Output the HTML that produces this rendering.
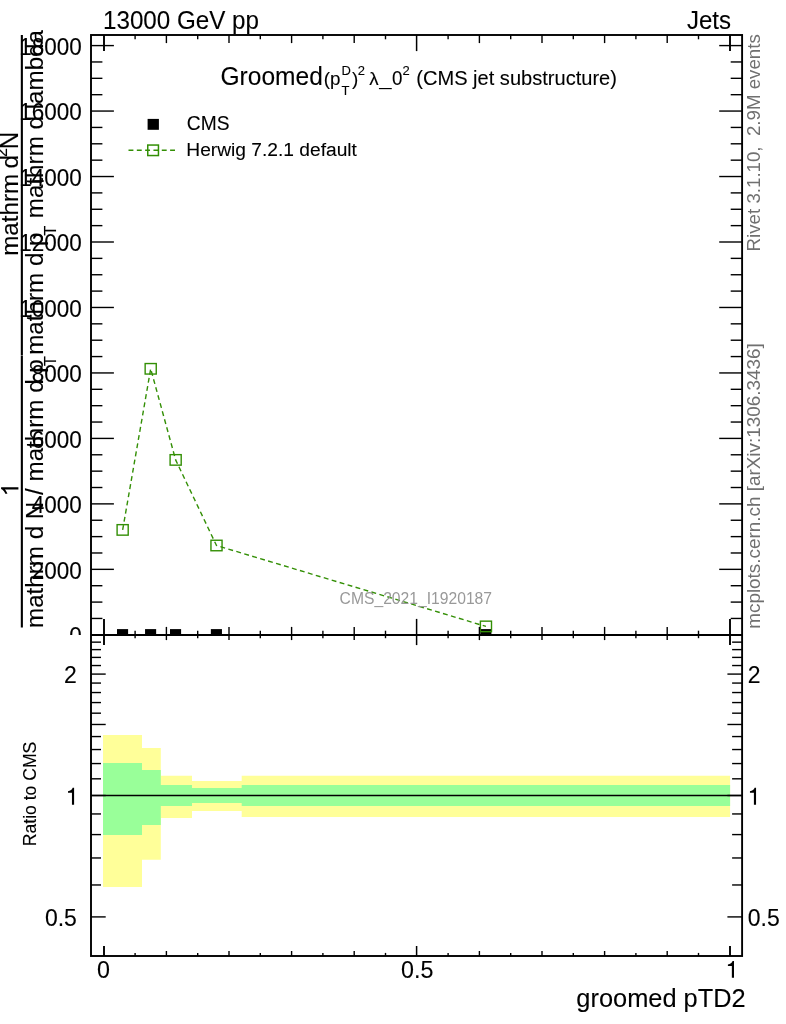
<!DOCTYPE html>
<html><head><meta charset="utf-8"><title>plot</title>
<style>html,body{margin:0;padding:0;background:#fff}body{width:786px;height:1024px;overflow:hidden}svg{will-change:transform}</style></head>
<body>
<svg width="786" height="1024" viewBox="0 0 786 1024" style="display:block">
<rect x="0" y="0" width="786" height="1024" fill="#fff"/>
<text transform="translate(81.80,644.12) scale(1,1.04)" font-size="22.5" text-anchor="end" fill="#000" stroke="#000" stroke-width="0.1" font-family="Liberation Sans, sans-serif">0</text>
<text transform="translate(81.80,578.65) scale(1,1.04)" font-size="22.5" text-anchor="end" fill="#000" stroke="#000" stroke-width="0.1" font-family="Liberation Sans, sans-serif">2000</text>
<text transform="translate(81.80,513.18) scale(1,1.04)" font-size="22.5" text-anchor="end" fill="#000" stroke="#000" stroke-width="0.1" font-family="Liberation Sans, sans-serif">4000</text>
<text transform="translate(81.80,447.71) scale(1,1.04)" font-size="22.5" text-anchor="end" fill="#000" stroke="#000" stroke-width="0.1" font-family="Liberation Sans, sans-serif">6000</text>
<text transform="translate(81.80,382.24) scale(1,1.04)" font-size="22.5" text-anchor="end" fill="#000" stroke="#000" stroke-width="0.1" font-family="Liberation Sans, sans-serif">8000</text>
<text transform="translate(81.80,316.77) scale(1,1.04)" font-size="22.5" text-anchor="end" fill="#000" stroke="#000" stroke-width="0.1" font-family="Liberation Sans, sans-serif">10000</text>
<text transform="translate(81.80,251.30) scale(1,1.04)" font-size="22.5" text-anchor="end" fill="#000" stroke="#000" stroke-width="0.1" font-family="Liberation Sans, sans-serif">12000</text>
<text transform="translate(81.80,185.83) scale(1,1.04)" font-size="22.5" text-anchor="end" fill="#000" stroke="#000" stroke-width="0.1" font-family="Liberation Sans, sans-serif">14000</text>
<text transform="translate(81.80,120.36) scale(1,1.04)" font-size="22.5" text-anchor="end" fill="#000" stroke="#000" stroke-width="0.1" font-family="Liberation Sans, sans-serif">16000</text>
<text transform="translate(81.80,54.89) scale(1,1.04)" font-size="22.5" text-anchor="end" fill="#000" stroke="#000" stroke-width="0.1" font-family="Liberation Sans, sans-serif">18000</text>
<rect x="20.8" y="35" width="2.1" height="320" fill="#000"/>
<rect x="20.8" y="355.4" width="2.1" height="272.1" fill="#000"/>
<text transform="translate(43.10,628.00) rotate(-90)" font-size="24.2" text-anchor="start" fill="#000" stroke="#000" stroke-width="0.1" font-family="Liberation Sans, sans-serif">mathrm d N / mathrm d p</text>
<text transform="translate(55.70,365.90) rotate(-90) scale(1,1.04)" font-size="16" text-anchor="start" fill="#000" stroke="#000" stroke-width="0.1" font-family="Liberation Sans, sans-serif">T</text>
<text transform="translate(43.10,354.80) rotate(-90)" font-size="24.2" text-anchor="start" fill="#000" stroke="#000" stroke-width="0.1" font-family="Liberation Sans, sans-serif">mathrm d p</text>
<text transform="translate(55.70,235.40) rotate(-90) scale(1,1.04)" font-size="16" text-anchor="start" fill="#000" stroke="#000" stroke-width="0.1" font-family="Liberation Sans, sans-serif">T</text>
<text transform="translate(43.10,218.20) rotate(-90)" font-size="24.2" text-anchor="start" fill="#000" stroke="#000" stroke-width="0.1" font-family="Liberation Sans, sans-serif">mathrm d lambda</text>
<path transform="translate(18.4,496.0) rotate(-90)" d="M8.7,0 L8.7,-17.3 L7.0,-17.3 C6.2,-15.3 4.2,-13.8 2.2,-13.1 L2.2,-11.0 C3.9,-11.5 5.5,-12.5 6.5,-13.5 L6.5,0 Z" fill="#000"/>
<text transform="translate(18.40,255.80) rotate(-90)" font-size="24.2" text-anchor="start" fill="#000" stroke="#000" stroke-width="0.1" font-family="Liberation Sans, sans-serif">mathrm</text>
<text transform="translate(18.40,168.50) rotate(-90)" font-size="24.2" text-anchor="start" fill="#000" stroke="#000" stroke-width="0.1" font-family="Liberation Sans, sans-serif">d</text>
<text transform="translate(7.30,157.00) rotate(-90) scale(1,1.04)" font-size="16" text-anchor="start" fill="#000" stroke="#000" stroke-width="0.1" font-family="Liberation Sans, sans-serif">2</text>
<text transform="translate(18.40,149.30) rotate(-90) scale(1,1.04)" font-size="24.2" text-anchor="start" fill="#000" stroke="#000" stroke-width="0.1" font-family="Liberation Sans, sans-serif">N</text>
<clipPath id="cm"><rect x="91.0" y="35.0" width="651.1" height="600.0"/></clipPath>
<g clip-path="url(#cm)">
<rect x="117.00" y="629.1" width="11.1" height="11" fill="#000"/>
<rect x="145.05" y="629.1" width="11.1" height="11" fill="#000"/>
<rect x="170.00" y="629.1" width="11.1" height="11" fill="#000"/>
<rect x="210.85" y="629.1" width="11.1" height="11" fill="#000"/>
<rect x="480.30" y="629.1" width="11.1" height="11" fill="#000"/>
</g>
<path d="M122.65,529.90 L150.70,368.80 L175.65,459.90 L216.50,545.50 L485.95,626.40" fill="none" stroke="#338f05" stroke-width="1.4" stroke-dasharray="4.9,3.4"/>
<rect x="117.10" y="524.65" width="11.1" height="10.5" fill="none" stroke="#338f05" stroke-width="1.4"/>
<rect x="145.15" y="363.55" width="11.1" height="10.5" fill="none" stroke="#338f05" stroke-width="1.4"/>
<rect x="170.10" y="454.65" width="11.1" height="10.5" fill="none" stroke="#338f05" stroke-width="1.4"/>
<rect x="210.95" y="540.25" width="11.1" height="10.5" fill="none" stroke="#338f05" stroke-width="1.4"/>
<rect x="480.40" y="621.15" width="11.1" height="10.5" fill="none" stroke="#338f05" stroke-width="1.4"/>
<text transform="translate(415.80,603.90)" font-size="16.4" text-anchor="middle" fill="#999" font-family="Liberation Sans, sans-serif" textLength="152.40" lengthAdjust="spacingAndGlyphs">CMS_2021_I1920187</text>
<rect x="0" y="635.0" width="786" height="389.0" fill="#fff"/>
<path d="M103.00,735.00 L142.00,735.00 L142.00,748.00 L160.80,748.00 L160.80,775.70 L192.00,775.70 L192.00,781.10 L241.70,781.10 L241.70,775.70 L730.10,775.70 L730.10,817.00 L241.70,817.00 L241.70,810.90 L192.00,810.90 L192.00,818.00 L160.80,818.00 L160.80,859.80 L142.00,859.80 L142.00,887.00 L103.00,887.00 Z" fill="#ffff99"/>
<path d="M103.00,763.00 L142.00,763.00 L142.00,770.00 L160.80,770.00 L160.80,785.00 L192.00,785.00 L192.00,788.00 L241.70,788.00 L241.70,785.00 L730.10,785.00 L730.10,806.00 L241.70,806.00 L241.70,803.00 L192.00,803.00 L192.00,806.00 L160.80,806.00 L160.80,825.00 L142.00,825.00 L142.00,835.00 L103.00,835.00 Z" fill="#99ff99"/>
<line x1="91.0" x2="742.1" y1="795.50" y2="795.50" stroke="#000" stroke-width="1.3"/>
<line x1="91.00" y1="634.82" x2="113.90" y2="634.82" stroke="#000" stroke-width="1.4"/>
<line x1="742.10" y1="634.82" x2="719.20" y2="634.82" stroke="#000" stroke-width="1.4"/>
<line x1="91.00" y1="618.45" x2="102.40" y2="618.45" stroke="#000" stroke-width="1.4"/>
<line x1="742.10" y1="618.45" x2="730.70" y2="618.45" stroke="#000" stroke-width="1.4"/>
<line x1="91.00" y1="602.09" x2="102.40" y2="602.09" stroke="#000" stroke-width="1.4"/>
<line x1="742.10" y1="602.09" x2="730.70" y2="602.09" stroke="#000" stroke-width="1.4"/>
<line x1="91.00" y1="585.72" x2="102.40" y2="585.72" stroke="#000" stroke-width="1.4"/>
<line x1="742.10" y1="585.72" x2="730.70" y2="585.72" stroke="#000" stroke-width="1.4"/>
<line x1="91.00" y1="569.35" x2="113.90" y2="569.35" stroke="#000" stroke-width="1.4"/>
<line x1="742.10" y1="569.35" x2="719.20" y2="569.35" stroke="#000" stroke-width="1.4"/>
<line x1="91.00" y1="552.98" x2="102.40" y2="552.98" stroke="#000" stroke-width="1.4"/>
<line x1="742.10" y1="552.98" x2="730.70" y2="552.98" stroke="#000" stroke-width="1.4"/>
<line x1="91.00" y1="536.62" x2="102.40" y2="536.62" stroke="#000" stroke-width="1.4"/>
<line x1="742.10" y1="536.62" x2="730.70" y2="536.62" stroke="#000" stroke-width="1.4"/>
<line x1="91.00" y1="520.25" x2="102.40" y2="520.25" stroke="#000" stroke-width="1.4"/>
<line x1="742.10" y1="520.25" x2="730.70" y2="520.25" stroke="#000" stroke-width="1.4"/>
<line x1="91.00" y1="503.88" x2="113.90" y2="503.88" stroke="#000" stroke-width="1.4"/>
<line x1="742.10" y1="503.88" x2="719.20" y2="503.88" stroke="#000" stroke-width="1.4"/>
<line x1="91.00" y1="487.51" x2="102.40" y2="487.51" stroke="#000" stroke-width="1.4"/>
<line x1="742.10" y1="487.51" x2="730.70" y2="487.51" stroke="#000" stroke-width="1.4"/>
<line x1="91.00" y1="471.15" x2="102.40" y2="471.15" stroke="#000" stroke-width="1.4"/>
<line x1="742.10" y1="471.15" x2="730.70" y2="471.15" stroke="#000" stroke-width="1.4"/>
<line x1="91.00" y1="454.78" x2="102.40" y2="454.78" stroke="#000" stroke-width="1.4"/>
<line x1="742.10" y1="454.78" x2="730.70" y2="454.78" stroke="#000" stroke-width="1.4"/>
<line x1="91.00" y1="438.41" x2="113.90" y2="438.41" stroke="#000" stroke-width="1.4"/>
<line x1="742.10" y1="438.41" x2="719.20" y2="438.41" stroke="#000" stroke-width="1.4"/>
<line x1="91.00" y1="422.04" x2="102.40" y2="422.04" stroke="#000" stroke-width="1.4"/>
<line x1="742.10" y1="422.04" x2="730.70" y2="422.04" stroke="#000" stroke-width="1.4"/>
<line x1="91.00" y1="405.68" x2="102.40" y2="405.68" stroke="#000" stroke-width="1.4"/>
<line x1="742.10" y1="405.68" x2="730.70" y2="405.68" stroke="#000" stroke-width="1.4"/>
<line x1="91.00" y1="389.31" x2="102.40" y2="389.31" stroke="#000" stroke-width="1.4"/>
<line x1="742.10" y1="389.31" x2="730.70" y2="389.31" stroke="#000" stroke-width="1.4"/>
<line x1="91.00" y1="372.94" x2="113.90" y2="372.94" stroke="#000" stroke-width="1.4"/>
<line x1="742.10" y1="372.94" x2="719.20" y2="372.94" stroke="#000" stroke-width="1.4"/>
<line x1="91.00" y1="356.57" x2="102.40" y2="356.57" stroke="#000" stroke-width="1.4"/>
<line x1="742.10" y1="356.57" x2="730.70" y2="356.57" stroke="#000" stroke-width="1.4"/>
<line x1="91.00" y1="340.21" x2="102.40" y2="340.21" stroke="#000" stroke-width="1.4"/>
<line x1="742.10" y1="340.21" x2="730.70" y2="340.21" stroke="#000" stroke-width="1.4"/>
<line x1="91.00" y1="323.84" x2="102.40" y2="323.84" stroke="#000" stroke-width="1.4"/>
<line x1="742.10" y1="323.84" x2="730.70" y2="323.84" stroke="#000" stroke-width="1.4"/>
<line x1="91.00" y1="307.47" x2="113.90" y2="307.47" stroke="#000" stroke-width="1.4"/>
<line x1="742.10" y1="307.47" x2="719.20" y2="307.47" stroke="#000" stroke-width="1.4"/>
<line x1="91.00" y1="291.10" x2="102.40" y2="291.10" stroke="#000" stroke-width="1.4"/>
<line x1="742.10" y1="291.10" x2="730.70" y2="291.10" stroke="#000" stroke-width="1.4"/>
<line x1="91.00" y1="274.74" x2="102.40" y2="274.74" stroke="#000" stroke-width="1.4"/>
<line x1="742.10" y1="274.74" x2="730.70" y2="274.74" stroke="#000" stroke-width="1.4"/>
<line x1="91.00" y1="258.37" x2="102.40" y2="258.37" stroke="#000" stroke-width="1.4"/>
<line x1="742.10" y1="258.37" x2="730.70" y2="258.37" stroke="#000" stroke-width="1.4"/>
<line x1="91.00" y1="242.00" x2="113.90" y2="242.00" stroke="#000" stroke-width="1.4"/>
<line x1="742.10" y1="242.00" x2="719.20" y2="242.00" stroke="#000" stroke-width="1.4"/>
<line x1="91.00" y1="225.63" x2="102.40" y2="225.63" stroke="#000" stroke-width="1.4"/>
<line x1="742.10" y1="225.63" x2="730.70" y2="225.63" stroke="#000" stroke-width="1.4"/>
<line x1="91.00" y1="209.27" x2="102.40" y2="209.27" stroke="#000" stroke-width="1.4"/>
<line x1="742.10" y1="209.27" x2="730.70" y2="209.27" stroke="#000" stroke-width="1.4"/>
<line x1="91.00" y1="192.90" x2="102.40" y2="192.90" stroke="#000" stroke-width="1.4"/>
<line x1="742.10" y1="192.90" x2="730.70" y2="192.90" stroke="#000" stroke-width="1.4"/>
<line x1="91.00" y1="176.53" x2="113.90" y2="176.53" stroke="#000" stroke-width="1.4"/>
<line x1="742.10" y1="176.53" x2="719.20" y2="176.53" stroke="#000" stroke-width="1.4"/>
<line x1="91.00" y1="160.16" x2="102.40" y2="160.16" stroke="#000" stroke-width="1.4"/>
<line x1="742.10" y1="160.16" x2="730.70" y2="160.16" stroke="#000" stroke-width="1.4"/>
<line x1="91.00" y1="143.80" x2="102.40" y2="143.80" stroke="#000" stroke-width="1.4"/>
<line x1="742.10" y1="143.80" x2="730.70" y2="143.80" stroke="#000" stroke-width="1.4"/>
<line x1="91.00" y1="127.43" x2="102.40" y2="127.43" stroke="#000" stroke-width="1.4"/>
<line x1="742.10" y1="127.43" x2="730.70" y2="127.43" stroke="#000" stroke-width="1.4"/>
<line x1="91.00" y1="111.06" x2="113.90" y2="111.06" stroke="#000" stroke-width="1.4"/>
<line x1="742.10" y1="111.06" x2="719.20" y2="111.06" stroke="#000" stroke-width="1.4"/>
<line x1="91.00" y1="94.69" x2="102.40" y2="94.69" stroke="#000" stroke-width="1.4"/>
<line x1="742.10" y1="94.69" x2="730.70" y2="94.69" stroke="#000" stroke-width="1.4"/>
<line x1="91.00" y1="78.33" x2="102.40" y2="78.33" stroke="#000" stroke-width="1.4"/>
<line x1="742.10" y1="78.33" x2="730.70" y2="78.33" stroke="#000" stroke-width="1.4"/>
<line x1="91.00" y1="61.96" x2="102.40" y2="61.96" stroke="#000" stroke-width="1.4"/>
<line x1="742.10" y1="61.96" x2="730.70" y2="61.96" stroke="#000" stroke-width="1.4"/>
<line x1="91.00" y1="45.59" x2="113.90" y2="45.59" stroke="#000" stroke-width="1.4"/>
<line x1="742.10" y1="45.59" x2="719.20" y2="45.59" stroke="#000" stroke-width="1.4"/>
<line x1="104.00" y1="35.00" x2="104.00" y2="51.10" stroke="#000" stroke-width="1.9"/>
<line x1="104.00" y1="618.90" x2="104.00" y2="645.10" stroke="#000" stroke-width="1.9"/>
<line x1="104.00" y1="956.00" x2="104.00" y2="946.00" stroke="#000" stroke-width="1.9"/>
<line x1="135.10" y1="35.00" x2="135.10" y2="39.30" stroke="#000" stroke-width="1.4"/>
<line x1="135.10" y1="630.70" x2="135.10" y2="638.20" stroke="#000" stroke-width="1.4"/>
<line x1="135.10" y1="956.00" x2="135.10" y2="952.90" stroke="#000" stroke-width="1.4"/>
<line x1="166.40" y1="35.00" x2="166.40" y2="43.10" stroke="#000" stroke-width="1.4"/>
<line x1="166.40" y1="626.90" x2="166.40" y2="640.10" stroke="#000" stroke-width="1.4"/>
<line x1="166.40" y1="956.00" x2="166.40" y2="951.00" stroke="#000" stroke-width="1.4"/>
<line x1="197.70" y1="35.00" x2="197.70" y2="39.30" stroke="#000" stroke-width="1.4"/>
<line x1="197.70" y1="630.70" x2="197.70" y2="638.20" stroke="#000" stroke-width="1.4"/>
<line x1="197.70" y1="956.00" x2="197.70" y2="952.90" stroke="#000" stroke-width="1.4"/>
<line x1="229.00" y1="35.00" x2="229.00" y2="43.10" stroke="#000" stroke-width="1.4"/>
<line x1="229.00" y1="626.90" x2="229.00" y2="640.10" stroke="#000" stroke-width="1.4"/>
<line x1="229.00" y1="956.00" x2="229.00" y2="951.00" stroke="#000" stroke-width="1.4"/>
<line x1="260.30" y1="35.00" x2="260.30" y2="39.30" stroke="#000" stroke-width="1.4"/>
<line x1="260.30" y1="630.70" x2="260.30" y2="638.20" stroke="#000" stroke-width="1.4"/>
<line x1="260.30" y1="956.00" x2="260.30" y2="952.90" stroke="#000" stroke-width="1.4"/>
<line x1="291.60" y1="35.00" x2="291.60" y2="43.10" stroke="#000" stroke-width="1.4"/>
<line x1="291.60" y1="626.90" x2="291.60" y2="640.10" stroke="#000" stroke-width="1.4"/>
<line x1="291.60" y1="956.00" x2="291.60" y2="951.00" stroke="#000" stroke-width="1.4"/>
<line x1="322.90" y1="35.00" x2="322.90" y2="39.30" stroke="#000" stroke-width="1.4"/>
<line x1="322.90" y1="630.70" x2="322.90" y2="638.20" stroke="#000" stroke-width="1.4"/>
<line x1="322.90" y1="956.00" x2="322.90" y2="952.90" stroke="#000" stroke-width="1.4"/>
<line x1="354.20" y1="35.00" x2="354.20" y2="43.10" stroke="#000" stroke-width="1.4"/>
<line x1="354.20" y1="626.90" x2="354.20" y2="640.10" stroke="#000" stroke-width="1.4"/>
<line x1="354.20" y1="956.00" x2="354.20" y2="951.00" stroke="#000" stroke-width="1.4"/>
<line x1="385.50" y1="35.00" x2="385.50" y2="39.30" stroke="#000" stroke-width="1.4"/>
<line x1="385.50" y1="630.70" x2="385.50" y2="638.20" stroke="#000" stroke-width="1.4"/>
<line x1="385.50" y1="956.00" x2="385.50" y2="952.90" stroke="#000" stroke-width="1.4"/>
<line x1="416.60" y1="35.00" x2="416.60" y2="51.10" stroke="#000" stroke-width="1.5"/>
<line x1="416.60" y1="618.90" x2="416.60" y2="645.10" stroke="#000" stroke-width="1.5"/>
<line x1="416.60" y1="956.00" x2="416.60" y2="946.00" stroke="#000" stroke-width="1.5"/>
<line x1="448.10" y1="35.00" x2="448.10" y2="39.30" stroke="#000" stroke-width="1.4"/>
<line x1="448.10" y1="630.70" x2="448.10" y2="638.20" stroke="#000" stroke-width="1.4"/>
<line x1="448.10" y1="956.00" x2="448.10" y2="952.90" stroke="#000" stroke-width="1.4"/>
<line x1="479.40" y1="35.00" x2="479.40" y2="43.10" stroke="#000" stroke-width="1.4"/>
<line x1="479.40" y1="626.90" x2="479.40" y2="640.10" stroke="#000" stroke-width="1.4"/>
<line x1="479.40" y1="956.00" x2="479.40" y2="951.00" stroke="#000" stroke-width="1.4"/>
<line x1="510.70" y1="35.00" x2="510.70" y2="39.30" stroke="#000" stroke-width="1.4"/>
<line x1="510.70" y1="630.70" x2="510.70" y2="638.20" stroke="#000" stroke-width="1.4"/>
<line x1="510.70" y1="956.00" x2="510.70" y2="952.90" stroke="#000" stroke-width="1.4"/>
<line x1="542.00" y1="35.00" x2="542.00" y2="43.10" stroke="#000" stroke-width="1.4"/>
<line x1="542.00" y1="626.90" x2="542.00" y2="640.10" stroke="#000" stroke-width="1.4"/>
<line x1="542.00" y1="956.00" x2="542.00" y2="951.00" stroke="#000" stroke-width="1.4"/>
<line x1="573.30" y1="35.00" x2="573.30" y2="39.30" stroke="#000" stroke-width="1.4"/>
<line x1="573.30" y1="630.70" x2="573.30" y2="638.20" stroke="#000" stroke-width="1.4"/>
<line x1="573.30" y1="956.00" x2="573.30" y2="952.90" stroke="#000" stroke-width="1.4"/>
<line x1="604.60" y1="35.00" x2="604.60" y2="43.10" stroke="#000" stroke-width="1.4"/>
<line x1="604.60" y1="626.90" x2="604.60" y2="640.10" stroke="#000" stroke-width="1.4"/>
<line x1="604.60" y1="956.00" x2="604.60" y2="951.00" stroke="#000" stroke-width="1.4"/>
<line x1="635.90" y1="35.00" x2="635.90" y2="39.30" stroke="#000" stroke-width="1.4"/>
<line x1="635.90" y1="630.70" x2="635.90" y2="638.20" stroke="#000" stroke-width="1.4"/>
<line x1="635.90" y1="956.00" x2="635.90" y2="952.90" stroke="#000" stroke-width="1.4"/>
<line x1="667.20" y1="35.00" x2="667.20" y2="43.10" stroke="#000" stroke-width="1.4"/>
<line x1="667.20" y1="626.90" x2="667.20" y2="640.10" stroke="#000" stroke-width="1.4"/>
<line x1="667.20" y1="956.00" x2="667.20" y2="951.00" stroke="#000" stroke-width="1.4"/>
<line x1="698.50" y1="35.00" x2="698.50" y2="39.30" stroke="#000" stroke-width="1.4"/>
<line x1="698.50" y1="630.70" x2="698.50" y2="638.20" stroke="#000" stroke-width="1.4"/>
<line x1="698.50" y1="956.00" x2="698.50" y2="952.90" stroke="#000" stroke-width="1.4"/>
<line x1="730.00" y1="35.00" x2="730.00" y2="51.10" stroke="#000" stroke-width="1.9"/>
<line x1="730.00" y1="618.90" x2="730.00" y2="645.10" stroke="#000" stroke-width="1.9"/>
<line x1="730.00" y1="956.00" x2="730.00" y2="946.00" stroke="#000" stroke-width="1.9"/>
<line x1="91.00" y1="916.91" x2="105.70" y2="916.91" stroke="#000" stroke-width="1.4"/>
<line x1="742.10" y1="916.91" x2="727.40" y2="916.91" stroke="#000" stroke-width="1.4"/>
<line x1="91.00" y1="884.97" x2="101.00" y2="884.97" stroke="#000" stroke-width="1.4"/>
<line x1="742.10" y1="884.97" x2="732.10" y2="884.97" stroke="#000" stroke-width="1.4"/>
<line x1="91.00" y1="857.97" x2="101.00" y2="857.97" stroke="#000" stroke-width="1.4"/>
<line x1="742.10" y1="857.97" x2="732.10" y2="857.97" stroke="#000" stroke-width="1.4"/>
<line x1="91.00" y1="834.59" x2="101.00" y2="834.59" stroke="#000" stroke-width="1.4"/>
<line x1="742.10" y1="834.59" x2="732.10" y2="834.59" stroke="#000" stroke-width="1.4"/>
<line x1="91.00" y1="813.95" x2="101.00" y2="813.95" stroke="#000" stroke-width="1.4"/>
<line x1="742.10" y1="813.95" x2="732.10" y2="813.95" stroke="#000" stroke-width="1.4"/>
<line x1="91.00" y1="795.50" x2="105.70" y2="795.50" stroke="#000" stroke-width="1.4"/>
<line x1="742.10" y1="795.50" x2="727.40" y2="795.50" stroke="#000" stroke-width="1.4"/>
<line x1="91.00" y1="778.81" x2="101.00" y2="778.81" stroke="#000" stroke-width="1.4"/>
<line x1="742.10" y1="778.81" x2="732.10" y2="778.81" stroke="#000" stroke-width="1.4"/>
<line x1="91.00" y1="763.56" x2="101.00" y2="763.56" stroke="#000" stroke-width="1.4"/>
<line x1="742.10" y1="763.56" x2="732.10" y2="763.56" stroke="#000" stroke-width="1.4"/>
<line x1="91.00" y1="749.54" x2="101.00" y2="749.54" stroke="#000" stroke-width="1.4"/>
<line x1="742.10" y1="749.54" x2="732.10" y2="749.54" stroke="#000" stroke-width="1.4"/>
<line x1="91.00" y1="736.56" x2="101.00" y2="736.56" stroke="#000" stroke-width="1.4"/>
<line x1="742.10" y1="736.56" x2="732.10" y2="736.56" stroke="#000" stroke-width="1.4"/>
<line x1="91.00" y1="724.48" x2="105.70" y2="724.48" stroke="#000" stroke-width="1.4"/>
<line x1="742.10" y1="724.48" x2="727.40" y2="724.48" stroke="#000" stroke-width="1.4"/>
<line x1="91.00" y1="713.18" x2="101.00" y2="713.18" stroke="#000" stroke-width="1.4"/>
<line x1="742.10" y1="713.18" x2="732.10" y2="713.18" stroke="#000" stroke-width="1.4"/>
<line x1="91.00" y1="702.56" x2="101.00" y2="702.56" stroke="#000" stroke-width="1.4"/>
<line x1="742.10" y1="702.56" x2="732.10" y2="702.56" stroke="#000" stroke-width="1.4"/>
<line x1="91.00" y1="692.54" x2="101.00" y2="692.54" stroke="#000" stroke-width="1.4"/>
<line x1="742.10" y1="692.54" x2="732.10" y2="692.54" stroke="#000" stroke-width="1.4"/>
<line x1="91.00" y1="683.07" x2="101.00" y2="683.07" stroke="#000" stroke-width="1.4"/>
<line x1="742.10" y1="683.07" x2="732.10" y2="683.07" stroke="#000" stroke-width="1.4"/>
<line x1="91.00" y1="674.09" x2="105.70" y2="674.09" stroke="#000" stroke-width="1.4"/>
<line x1="742.10" y1="674.09" x2="727.40" y2="674.09" stroke="#000" stroke-width="1.4"/>
<line x1="91.00" y1="665.54" x2="101.00" y2="665.54" stroke="#000" stroke-width="1.4"/>
<line x1="742.10" y1="665.54" x2="732.10" y2="665.54" stroke="#000" stroke-width="1.4"/>
<line x1="91.00" y1="657.40" x2="101.00" y2="657.40" stroke="#000" stroke-width="1.4"/>
<line x1="742.10" y1="657.40" x2="732.10" y2="657.40" stroke="#000" stroke-width="1.4"/>
<line x1="91.00" y1="649.61" x2="101.00" y2="649.61" stroke="#000" stroke-width="1.4"/>
<line x1="742.10" y1="649.61" x2="732.10" y2="649.61" stroke="#000" stroke-width="1.4"/>
<line x1="91.00" y1="642.15" x2="101.00" y2="642.15" stroke="#000" stroke-width="1.4"/>
<line x1="742.10" y1="642.15" x2="732.10" y2="642.15" stroke="#000" stroke-width="1.4"/>
<rect x="91.0" y="35.0" width="651.1" height="921.0" fill="none" stroke="#000" stroke-width="1.9"/>
<line x1="91.00" y1="635.00" x2="742.10" y2="635.00" stroke="#000" stroke-width="2"/>
<text transform="translate(76.90,683.09) scale(1,1.06)" font-size="23" text-anchor="end" fill="#000" stroke="#000" stroke-width="0.1" font-family="Liberation Sans, sans-serif">2</text>
<text transform="translate(747.80,683.09) scale(1,1.06)" font-size="23" text-anchor="start" fill="#000" stroke="#000" stroke-width="0.1" font-family="Liberation Sans, sans-serif">2</text>
<path d="M74.10,804.80 L74.10,787.80 L72.65,787.80 C72.20,789.70 70.40,790.90 68.00,791.20 L68.00,792.80 L71.95,792.80 L71.95,804.80 Z" fill="#000"/>
<path d="M756.05,804.80 L756.05,787.80 L754.60,787.80 C754.15,789.70 752.35,790.90 749.95,791.20 L749.95,792.80 L753.90,792.80 L753.90,804.80 Z" fill="#000"/>
<text transform="translate(76.90,925.91) scale(1,1.06)" font-size="23" text-anchor="end" fill="#000" stroke="#000" stroke-width="0.1" font-family="Liberation Sans, sans-serif">0.5</text>
<text transform="translate(747.80,925.91) scale(1,1.06)" font-size="23" text-anchor="start" fill="#000" stroke="#000" stroke-width="0.1" font-family="Liberation Sans, sans-serif">0.5</text>
<text transform="translate(103.50,977.80) scale(1,1.04)" font-size="23.3" text-anchor="middle" fill="#000" stroke="#000" stroke-width="0.1" font-family="Liberation Sans, sans-serif">0</text>
<text transform="translate(417.30,977.80) scale(1,1.04)" font-size="23.3" text-anchor="middle" fill="#000" stroke="#000" stroke-width="0.1" font-family="Liberation Sans, sans-serif">0.5</text>
<path d="M734.00,977.80 L734.00,961.00 L732.55,961.00 C732.10,962.90 730.30,964.10 727.90,964.40 L727.90,966.00 L731.85,966.00 L731.85,977.80 Z" fill="#000"/>
<text transform="translate(36.30,846.20) rotate(-90) scale(1,1.04)" font-size="17.6" text-anchor="start" fill="#000" stroke="#000" stroke-width="0.1" font-family="Liberation Sans, sans-serif">Ratio to CMS</text>
<text transform="translate(745.70,1006.60)" font-size="25.4" text-anchor="end" fill="#000" stroke="#000" stroke-width="0.1" font-family="Liberation Sans, sans-serif">groomed pTD2</text>
<text transform="translate(103.00,28.60) scale(1,1.04)" font-size="24.2" text-anchor="start" fill="#000" stroke="#000" stroke-width="0.1" font-family="Liberation Sans, sans-serif">13000 GeV pp</text>
<text transform="translate(731.00,28.70) scale(1,1.04)" font-size="24" text-anchor="end" fill="#000" stroke="#000" stroke-width="0.1" font-family="Liberation Sans, sans-serif">Jets</text>
<text transform="translate(220.50,84.80) scale(1,1.04)" font-size="24.55" text-anchor="start" fill="#000" stroke="#000" stroke-width="0.1" font-family="Liberation Sans, sans-serif">Groomed</text>
<text transform="translate(323.70,84.80)" font-size="18.8" text-anchor="start" fill="#000" stroke="#000" stroke-width="0.1" font-family="Liberation Sans, sans-serif">(p</text>
<text transform="translate(341.60,75.10) scale(1,1.04)" font-size="13" text-anchor="start" fill="#000" stroke="#000" stroke-width="0.1" font-family="Liberation Sans, sans-serif">D</text>
<text transform="translate(341.60,94.80) scale(1,1.04)" font-size="13" text-anchor="start" fill="#000" stroke="#000" stroke-width="0.1" font-family="Liberation Sans, sans-serif">T</text>
<text transform="translate(352.10,84.80)" font-size="18.8" text-anchor="start" fill="#000" stroke="#000" stroke-width="0.1" font-family="Liberation Sans, sans-serif">)</text>
<text transform="translate(357.80,75.10) scale(1,1.04)" font-size="13" text-anchor="start" fill="#000" stroke="#000" stroke-width="0.1" font-family="Liberation Sans, sans-serif">2</text>
<text transform="translate(369.30,84.80)" font-size="18.8" text-anchor="start" fill="#000" stroke="#000" stroke-width="0.1" font-family="Liberation Sans, sans-serif">λ</text>
<text transform="translate(379.20,84.60)" font-size="18.8" text-anchor="start" fill="#000" font-family="Liberation Sans, sans-serif" textLength="12.30" lengthAdjust="spacingAndGlyphs">_</text>
<text transform="translate(392.10,84.80) scale(1,1.04)" font-size="18.8" text-anchor="start" fill="#000" stroke="#000" stroke-width="0.1" font-family="Liberation Sans, sans-serif">0</text>
<text transform="translate(402.40,75.10) scale(1,1.04)" font-size="13" text-anchor="start" fill="#000" stroke="#000" stroke-width="0.1" font-family="Liberation Sans, sans-serif">2</text>
<text transform="translate(416.30,84.80)" font-size="20" text-anchor="start" fill="#000" stroke="#000" stroke-width="0.1" font-family="Liberation Sans, sans-serif" textLength="200.60" lengthAdjust="spacingAndGlyphs">(CMS jet substructure)</text>
<rect x="147.6" y="118.9" width="11.3" height="10.9" fill="#000"/>
<text transform="translate(186.80,130.30) scale(1,1.04)" font-size="19.2" text-anchor="start" fill="#000" stroke="#000" stroke-width="0.1" font-family="Liberation Sans, sans-serif">CMS</text>
<path d="M128.5,150.25 L175.2,150.25" fill="none" stroke="#338f05" stroke-width="1.4" stroke-dasharray="4.9,3.42"/>
<rect x="147.75" y="145.05" width="10.7" height="10.5" fill="none" stroke="#338f05" stroke-width="1.5"/>
<text transform="translate(186.30,155.60)" font-size="19.2" text-anchor="start" fill="#000" stroke="#000" stroke-width="0.1" font-family="Liberation Sans, sans-serif">Herwig 7.2.1 default</text>
<text transform="translate(760.30,251.40) rotate(-90) scale(1,1.04)" font-size="18.2" text-anchor="start" fill="#707070" font-family="Liberation Sans, sans-serif" textLength="217.20" lengthAdjust="spacingAndGlyphs" xml:space="preserve">Rivet 3.1.10,  2.9M events</text>
<text transform="translate(760.30,628.80) rotate(-90) scale(1,1.04)" font-size="18.2" text-anchor="start" fill="#707070" font-family="Liberation Sans, sans-serif" textLength="285.60" lengthAdjust="spacingAndGlyphs">mcplots.cern.ch [arXiv:1306.3436]</text>
</svg>
</body></html>
